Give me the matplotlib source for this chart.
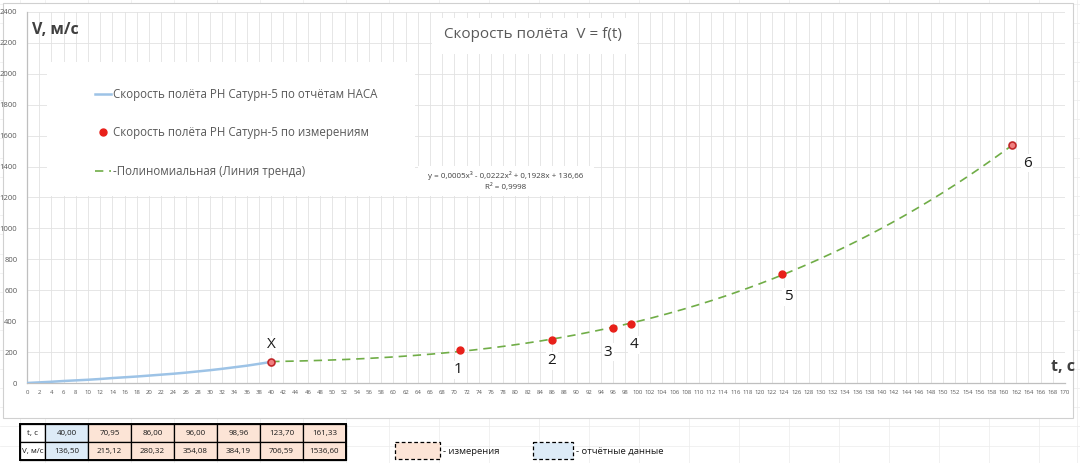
import numpy as np
import matplotlib
matplotlib.use('Agg')
import matplotlib.pyplot as plt
from matplotlib.patches import Rectangle
from matplotlib.lines import Line2D

plt.rcParams['font.family'] = ['Open Sans', 'DejaVu Sans']

# ---------------- data ----------------
t_nasa = [0, 2, 4, 6, 8, 10, 12, 14, 16, 18, 20, 22, 24, 26, 28, 30, 32, 34, 36, 38, 40]
v_nasa = [0, 4, 8, 13, 17, 21, 26, 32, 37, 42, 48, 54, 60, 67, 75, 83, 92, 102, 112, 124, 136.5]
t_x, v_x = 40.00, 136.50
t_meas = [70.95, 86.00, 96.00, 98.96, 123.70, 161.33]
v_meas = [215.12, 280.32, 354.08, 384.19, 706.59, 1536.60]
point_labels = ['X', '1', '2', '3', '4', '5', '6']
label_offsets_px = [(0, 17), (-2, -20), (0, -21), (-5, -24), (3, -21), (6, -23), (15, -18)]
legend_labels = ['Скорость полёта РН Сатурн-5 по отчётам НАСА',
                 'Скорость полёта РН Сатурн-5 по измерениям',
                 '-Полиномиальная (Линия тренда)']
title = 'Скорость полёта  V = f(t)'
eq_text = 'y = 0,0005x³ - 0,0222x² + 0,1928x + 136,66'
r2_text = 'R² = 0,9998'
ylabel = 'V, м/с'
xlabel = 't, с'
table_row_names = ['t, с', 'V, м/с']
key_labels = ['- измерения', '- отчётные данные']
x_ticks = list(range(0, 171, 2))
y_ticks = list(range(0, 2401, 200))

# ---------------- figure ----------------
W, H = 1080, 463
fig = plt.figure(figsize=(10.8, 4.63), dpi=100)
bg = fig.add_axes([0, 0, 1, 1], zorder=0)
bg.set_xlim(0, W); bg.set_ylim(H, 0); bg.axis('off')
P = bg.transData

# spreadsheet background grid
sheet_col = '#ececec'
for yy in np.arange(4, H, 19.2):
    bg.plot([0, W], [yy, yy], color=sheet_col, lw=0.5, zorder=0)
for xx in [20, 45, 88, 131, 174, 217, 260, 303, 346, 389, 439, 489, 539, 589, 639, 689, 739,
           789, 839, 889, 939, 989, 1039, 1077]:
    bg.plot([xx, xx], [0, H], color=sheet_col, lw=0.5, zorder=0)

# chart area
bg.add_patch(Rectangle((3, 3), 1070, 415, facecolor='white', edgecolor='#d0d0d0', lw=0.8, zorder=1))

# ---------------- main axes ----------------
x0, x1, ytop, ybot = 27, 1065, 12, 383
ax = fig.add_axes([x0 / W, (H - ybot) / H, (x1 - x0) / W, (ybot - ytop) / H], zorder=2)
ax.set_facecolor('none')
ax.set_xlim(0, 170); ax.set_ylim(0, 2400)
ax.set_xticks(x_ticks); ax.set_yticks(y_ticks)
ax.set_xticklabels([str(v) for v in x_ticks], fontsize=4.3, color='#595959')
ax.set_yticklabels([str(v) for v in y_ticks], fontsize=5.5, color='#595959')
ax.tick_params(length=0, pad=5)
ax.tick_params(axis='y', pad=7)
ax.set_axisbelow(True)
ax.grid(True, color='#e2e2e2', lw=0.6)
for s in ['top', 'right']:
    ax.spines[s].set_visible(False)
for s in ['left', 'bottom']:
    ax.spines[s].set_color('#bfbfbf'); ax.spines[s].set_linewidth(0.9)

# white text boxes covering grid
for (bx, by, bw, bh) in [(47, 62, 368, 134), (432, 18, 205, 36), (418, 166, 176, 30)]:
    ax.add_patch(Rectangle((bx, by), bw, bh, transform=P, facecolor='white',
                           edgecolor='none', zorder=0.8, clip_on=False))

# data
ax.plot(t_nasa, v_nasa, color='#9dc3e6', lw=1.8, zorder=3)
t_all = np.array([t_x] + t_meas)
v_all = np.array([v_x] + v_meas)
coef = np.polyfit(t_all, v_all, 3)
tt = np.linspace(t_all.min(), t_all.max(), 300)
ax.plot(tt, np.polyval(coef, tt), color='#70ad47', lw=1.2, dashes=(5, 3.5), zorder=3)
ax.plot(t_meas[:-1], v_meas[:-1], 'o', color='#e8201a', ms=5, zorder=4)
ax.plot([t_x, t_meas[-1]], [v_x, v_meas[-1]], 'o', ms=5, markerfacecolor='#f08080',
        markeredgecolor='#c0282a', markeredgewidth=1.2, zorder=4)

for lab, tx, vy, (dx, dy) in zip(point_labels, t_all, v_all, label_offsets_px):
    ax.annotate(lab, (tx, vy), xytext=(dx * 0.72, dy * 0.72), textcoords='offset points',
                ha='center', va='center', fontsize=11, color='#1a1a1a',
                bbox=dict(boxstyle='square,pad=0.1', facecolor='white', edgecolor='none'),
                zorder=5)

# legend
handles = [Line2D([], [], color='#9dc3e6', lw=1.8),
           Line2D([], [], ls='none', marker='o', color='#e8201a', ms=5),
           Line2D([], [], color='#70ad47', lw=1.2, dashes=(5, 3.5))]
ax.legend(handles, legend_labels, loc='upper left', bbox_to_anchor=(95, 88),
          bbox_transform=P, frameon=False, fontsize=8.3, labelcolor='#595959',
          handlelength=1.4, handletextpad=0.2, labelspacing=2.2,
          borderpad=0, borderaxespad=0)

# titles
ax.text(533, 35, title, transform=P, ha='center', va='center', fontsize=11, color='#595959')
ax.text(32, 30, ylabel, transform=P, ha='left', va='center', fontsize=11.5,
        fontweight='bold', color='#404040')
ax.text(1075, 367, xlabel, transform=P, ha='right', va='center', fontsize=11.5,
        fontweight='bold', color='#404040', clip_on=False)
ax.text(506, 175, eq_text, transform=P, ha='center', va='center', fontsize=5.8, color='#404040')
ax.text(506, 187, r2_text, transform=P, ha='center', va='center', fontsize=5.8, color='#404040')

# ---------------- table ----------------
col_edges = [20, 45, 88, 131, 174, 217, 260, 303, 346]
row_edges = [424, 442, 460]
t_row = [t_x] + t_meas
v_row = [v_x] + v_meas
fmt = lambda v: f'{v:.2f}'.replace('.', ',')
for r, (name, vals) in enumerate(zip(table_row_names, [t_row, v_row])):
    ya, yb = row_edges[r], row_edges[r + 1]
    cells = [name] + [fmt(v) for v in vals]
    for c, txt in enumerate(cells):
        xa, xb = col_edges[c], col_edges[c + 1]
        fc = 'white' if c == 0 else ('#ddebf7' if c == 1 else '#fce4d6')
        bg.add_patch(Rectangle((xa, ya), xb - xa, yb - ya, facecolor=fc,
                               edgecolor='black', lw=0.9, zorder=2))
        bg.text((xa + xb) / 2, (ya + yb) / 2, txt, ha='center', va='center',
                fontsize=5.8, color='#1a1a1a', zorder=3)
bg.add_patch(Rectangle((col_edges[0], row_edges[0]), col_edges[-1] - col_edges[0],
                       row_edges[-1] - row_edges[0], facecolor='none', edgecolor='black',
                       lw=1.4, zorder=3))

# key boxes
for (kx, kw, fc, txt) in [(395, 45, '#fce4d6', key_labels[0]), (533, 40, '#ddebf7', key_labels[1])]:
    bg.add_patch(Rectangle((kx, 442), kw, 17, facecolor=fc, edgecolor='black', lw=0.9,
                           ls=(0, (3, 2)), zorder=2))
    bg.text(kx + kw + 3, 451, txt, ha='left', va='center', fontsize=6.8, color='#1a1a1a', zorder=3)

fig.savefig('out.png', dpi=100)
